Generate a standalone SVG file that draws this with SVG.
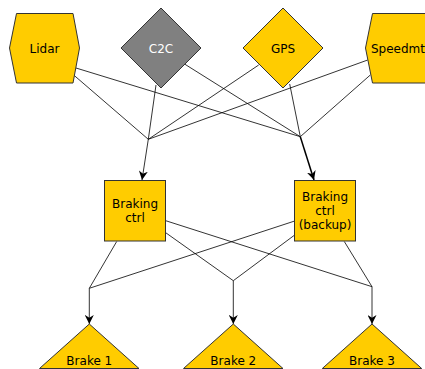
<svg xmlns="http://www.w3.org/2000/svg" width="425" height="369" viewBox="0 0 425 369">
  <style>
    .node { fill: #ffcc00; stroke: #333333; stroke-width: 1; }
    .gray { fill: #808080; stroke: #333333; stroke-width: 1; }
    .label { font-family: "DejaVu Sans", "Liberation Sans", sans-serif; font-size: 12px; fill: #000000; text-anchor: middle; }
    .light { fill: #ffffff; }
    .edge { fill: none; stroke: #000000; stroke-width: 0.8; }
    .bold { stroke-width: 1.5; }
  </style>
  <defs>
    <marker id="arrow" viewBox="0 0 10 10" refX="10" refY="5" markerWidth="9" markerHeight="9" markerUnits="userSpaceOnUse" orient="auto">
      <path d="M0,0 L10,5 L0,10 L3,5 z" fill="#000000"/>
    </marker>
  </defs>

  <!-- connectors -->
  <g id="connectors">
    <!-- sensors into the two merge points -->
    <line class="edge" x1="76" y1="68" x2="300.3" y2="136.7"/>
    <line class="edge" x1="74" y1="75.3" x2="148.3" y2="139.3"/>
    <line class="edge" x1="156" y1="85" x2="148.3" y2="139.3"/>
    <line class="edge" x1="185" y1="64.3" x2="300.3" y2="136.7"/>
    <line class="edge" x1="258.7" y1="65" x2="148.3" y2="139.3"/>
    <line class="edge" x1="289.7" y1="84" x2="300.3" y2="136.7"/>
    <line class="edge" x1="367.7" y1="60" x2="148.3" y2="139.3"/>
    <line class="edge" x1="370.3" y1="75" x2="300.3" y2="136.7"/>
    <!-- merge points into the controllers -->
    <line class="edge" x1="148.3" y1="139.3" x2="142" y2="180" marker-end="url(#arrow)"/>
    <line class="edge bold" x1="300.3" y1="136.7" x2="314" y2="180" marker-end="url(#arrow)"/>
    <!-- controllers into the three merge points -->
    <line class="edge" x1="116.7" y1="241.5" x2="89.3" y2="288.3"/>
    <line class="edge" x1="165.7" y1="220.7" x2="372" y2="286.7"/>
    <line class="edge" x1="165.7" y1="232.7" x2="233.3" y2="280.7"/>
    <line class="edge" x1="294.7" y1="221" x2="89.3" y2="288.3"/>
    <line class="edge" x1="294.7" y1="235" x2="233.3" y2="280.7"/>
    <line class="edge" x1="344.3" y1="241.5" x2="372" y2="286.7"/>
    <!-- merge points into the brakes -->
    <line class="edge" x1="89.3" y1="288.3" x2="89.3" y2="324" marker-end="url(#arrow)"/>
    <line class="edge" x1="233.3" y1="280.7" x2="233.3" y2="324" marker-end="url(#arrow)"/>
    <line class="edge" x1="372" y1="286.7" x2="372" y2="324" marker-end="url(#arrow)"/>
  </g>

  <!-- sensors -->
  <g id="lidar">
    <polygon class="node" points="16.5,13.5 73,13.5 79.5,48 73,83 16.5,83 9.5,48"/>
    <text class="label" x="44.5" y="52.5">Lidar</text>
  </g>
  <g id="c2c">
    <polygon class="gray" points="161,8 201,48 161,88 121,48"/>
    <text class="label light" x="161" y="52.5">C2C</text>
  </g>
  <g id="gps">
    <polygon class="node" points="283,8 323,48 283,88 243,48"/>
    <text class="label" x="283" y="52.5">GPS</text>
  </g>
  <g id="speedmt">
    <polygon class="node" points="372.5,13.5 429,13.5 435.5,48 429,83 372.5,83 365.5,48"/>
    <text class="label" x="398" y="52.5">Speedmt</text>
  </g>

  <!-- controllers -->
  <g id="braking-ctrl">
    <rect class="node" x="104.5" y="180.5" width="61" height="60.5"/>
    <text class="label" x="135" y="208">Braking</text>
    <text class="label" x="135" y="222.3">ctrl</text>
  </g>
  <g id="braking-ctrl-backup">
    <rect class="node" x="294.5" y="180.5" width="61" height="60.5"/>
    <text class="label" x="325" y="200.7">Braking</text>
    <text class="label" x="325" y="215">ctrl</text>
    <text class="label" x="325" y="229.2">(backup)</text>
  </g>

  <!-- brakes -->
  <g id="brake-1">
    <polygon class="node" points="89.3,324 139,368.5 39.5,368.5"/>
    <text class="label" x="89.3" y="365">Brake 1</text>
  </g>
  <g id="brake-2">
    <polygon class="node" points="233.3,324 283,368.5 183.5,368.5"/>
    <text class="label" x="233.3" y="365">Brake 2</text>
  </g>
  <g id="brake-3">
    <polygon class="node" points="372,324 421.7,368.5 322.3,368.5"/>
    <text class="label" x="372" y="365">Brake 3</text>
  </g>
</svg>
